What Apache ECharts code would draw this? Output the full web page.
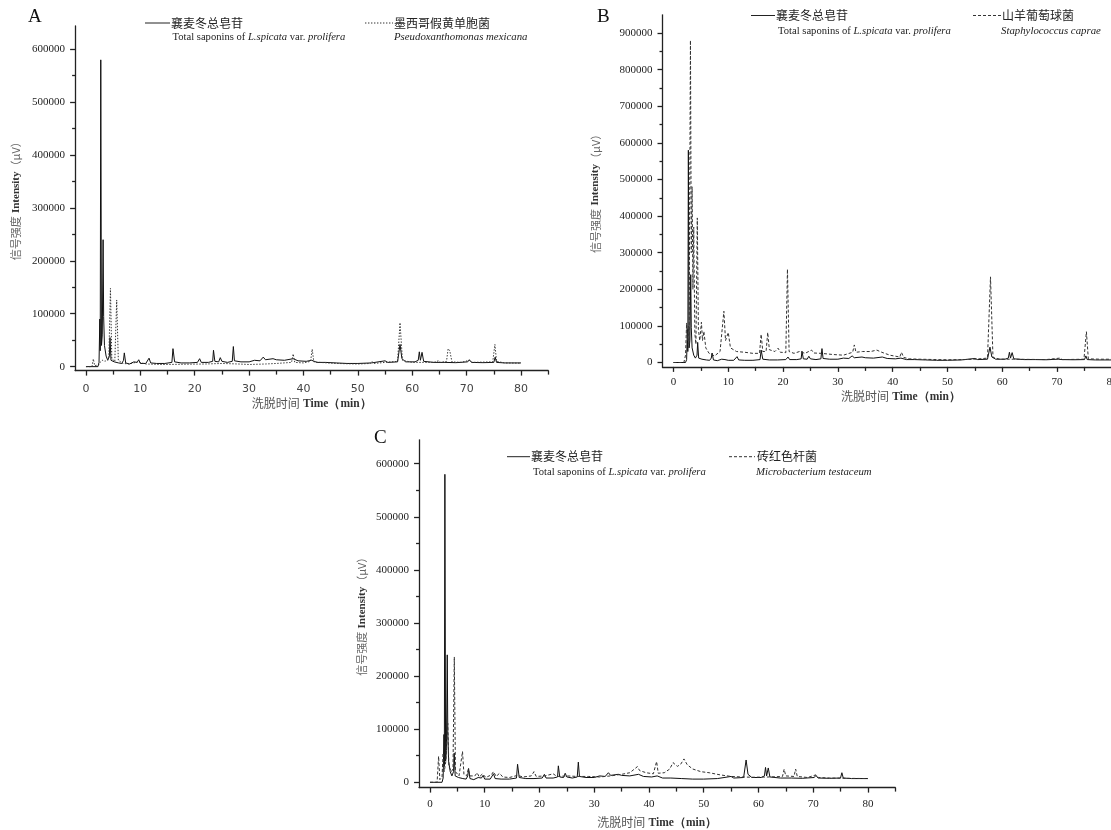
<!DOCTYPE html>
<html><head><meta charset="utf-8">
<script src="https://cdn.jsdelivr.net/npm/echarts@6/dist/echarts.min.js"></script>
<style>html,body{margin:0;padding:0;background:#fff}#c{width:1111px;height:830px}</style>
</head><body><div id="c"></div>
<script>
// ---------------- DATA ----------------
const panelLetters = ['A', 'B', 'C'];
const xTicks = [0, 10, 20, 30, 40, 50, 60, 70, 80];
const xMinorTicks = [5, 15, 25, 35, 45, 55, 65, 75, 85];
const yTicksA = [0, 100000, 200000, 300000, 400000, 500000, 600000];
const yMinorA = [50000, 150000, 250000, 350000, 450000, 550000];
const yTicksB = [0, 100000, 200000, 300000, 400000, 500000, 600000, 700000, 800000, 900000];
const yMinorB = [50000, 150000, 250000, 350000, 450000, 550000, 650000, 750000, 850000];
const yTicksC = yTicksA;
const yMinorC = yMinorA;

const xAxisNameCn = '洗脱时间';
const xAxisNameEn = 'Time（min）';
const yAxisNameCn = '信号强度';
const yAxisNameEn = 'Intensity';
const yAxisUnit = '（μV）';

const refNameCn = '襄麦冬总皂苷';
const refNameEn = 'Total saponins of {i|L.spicata} var. {i|prolifera}';
const strainNamesCn = ['墨西哥假黄单胞菌', '山羊葡萄球菌', '砖红色杆菌'];
const strainNamesEn = ['Pseudoxanthomonas mexicana', 'Staphylococcus caprae', 'Microbacterium testaceum'];

// reference chromatogram (solid), same in all three panels: [time min, intensity µV]
const saponins = [
  [0,0],[2.2,0],[2.4,8000],[2.55,90000],[2.62,30000],[2.72,580000],[2.85,40000],[3.0,60000],[3.15,240000],
  [3.25,95000],[3.4,40000],[3.7,20000],[4.0,12000],[4.3,20000],[4.42,55000],[4.6,12000],[5.2,9000],[6.0,7000],
  [6.6,6000],[6.9,12000],[7.05,26000],[7.3,7000],[8.0,5000],[8.8,9000],[9.1,12000],[9.4,8000],[9.7,13000],
  [10.0,6000],[11.0,6000],[11.6,16000],[11.9,7000],[13,6000],[14.5,6000],[15.8,8000],[16.0,34000],[16.3,9000],
  [17.5,7000],[19,7000],[20.5,8000],[20.9,15000],[21.2,8000],[22.5,8000],[23.3,10000],[23.45,31000],[23.7,10000],
  [24.4,9000],[24.7,17000],[25.0,10000],[26.0,8000],[26.9,10000],[27.1,38000],[27.3,11000],[28.5,9000],[30,9000],
  [31,12000],[32,11000],[32.6,18000],[33,13000],[34.4,15000],[35,13000],[36.5,12000],[38.1,15000],[39,11000],
  [40.5,10000],[41.5,12000],[42.5,8000],[44,8000],[46,7000],[48,6000],[50,6000],[52.5,7000],[55,11000],[55.5,8000],
  [57.3,9000],[57.75,42000],[58.1,15000],[58.8,9000],[60.5,9000],[61.1,12000],[61.3,28000],[61.5,12000],[61.8,27000],
  [62.1,10000],[64,8000],[66,8000],[68,7500],[70.2,9000],[70.5,13000],[70.9,8000],[73,7500],[75.0,8000],[75.25,18000],
  [75.5,8000],[77,7000],[80,7000]
];

// Pseudoxanthomonas mexicana (dotted, panel A)
const mexicana = [
  [0,0],[1.1,0],[1.35,14500],[1.6,2000],[2.3,3000],[2.6,8000],[3.0,12000],[3.5,10000],[4.2,15000],[4.5,148000],
  [4.75,15000],[5.3,10000],[5.65,126000],[5.95,12000],[6.8,6000],[8,5000],[9.5,9000],[11,5000],[14,4000],[18,4500],
  [22,5000],[25,6000],[28,5000],[30,4000],[33,5000],[35,6000],[37.8,8000],[38.1,24000],[38.4,8000],[40,7000],
  [41.3,10000],[41.6,33000],[41.9,9000],[43,8000],[46,6000],[50,5000],[52.3,6000],[52.6,10000],[52.9,6000],[55,8000],
  [57.3,10000],[57.75,83000],[58.2,12000],[60,8000],[62,8000],[64,8000],[64.8,11000],[65.2,8000],[66.3,10000],
  [66.6,34000],[66.9,30000],[67.3,9000],[69,8000],[70.5,12000],[71,8000],[74.8,9000],[75.2,42000],[75.5,10000],
  [77,7000],[80,6500]
];

// Staphylococcus caprae (dashed, panel B)
const caprae = [
  [0,0],[1.9,0],[2.2,20000],[2.4,108000],[2.55,60000],[2.7,100000],[2.85,50000],[3.1,880000],[3.25,300000],
  [3.4,480000],[3.55,200000],[3.7,370000],[3.9,80000],[4.1,50000],[4.35,395000],[4.55,90000],[4.8,60000],[5.1,110000],
  [5.3,60000],[5.55,85000],[5.9,40000],[6.5,25000],[7.5,18000],[8.5,30000],[9.2,140000],[9.5,60000],[10.0,82000],
  [10.4,40000],[11.5,30000],[13,28000],[14.5,25000],[15.7,25000],[16.0,77000],[16.3,30000],[16.9,30000],[17.2,82000],
  [17.5,35000],[18.5,30000],[19.1,39000],[19.5,28000],[20.5,27000],[20.8,255000],[21.1,30000],[22,25000],[23,30000],
  [24,25000],[25.2,34000],[25.6,26000],[27,25000],[29,22000],[31,20000],[32.7,28000],[33.0,48000],[33.3,28000],
  [34.5,30000],[36,30000],[37.1,34000],[38,28000],[39.5,20000],[41.3,15000],[41.6,28000],[42,14000],[43,10000],
  [45,9000],[48,8000],[50,7500],[53,8000],[55,9000],[57.3,12000],[57.85,234000],[58.3,14000],[59.5,9000],[62,9000],
  [65,8500],[68,8000],[70.5,12000],[71,8000],[74.9,9000],[75.35,84000],[75.7,10000],[78,9000],[80,9000],[85,9000]
];

// Microbacterium testaceum (dashed, panel C)
const testaceum = [
  [0,0],[1.3,0],[1.57,49000],[1.8,5000],[2.2,10000],[2.4,55000],[2.6,20000],[2.9,40000],[3.25,111000],[3.45,30000],
  [3.9,20000],[4.2,25000],[4.44,236000],[4.65,20000],[5.3,12000],[5.94,58000],[6.2,15000],[6.7,12000],[7.0,25000],
  [7.3,12000],[8.2,12000],[8.6,18000],[9.0,10000],[9.6,16000],[10.2,9000],[11.2,14000],[11.6,20000],[12.1,11000],
  [12.7,17000],[13.3,10000],[14.5,9000],[16,13000],[17,10000],[18.5,12000],[19.0,20000],[19.4,11000],[21,12000],
  [22.5,16000],[23.2,11000],[25,12000],[27,11000],[29,11000],[31,10000],[33,12000],[35,15000],[36.5,18000],
  [37.9,29500],[38.3,22000],[39.5,18000],[40.8,16000],[41.4,39000],[41.7,17000],[42.8,18000],[43.8,25000],
  [44.4,37000],[45.2,30000],[45.8,34000],[46.4,44000],[47,33000],[48,25000],[49.5,20000],[51,18000],[53,14000],
  [55,11000],[57,10000],[59,9500],[62,10000],[64.4,11000],[64.7,24500],[65.0,12000],[66.5,11000],[66.8,25000],
  [67.1,11000],[69,9000],[70.5,14000],[71,9000],[73,8000],[76,7500],[80,7000]
];

const strainSeries = [mexicana, caprae, testaceum];
const yTickSets = [yTicksA, yTicksB, yTicksC];
const yMinorSets = [yMinorA, yMinorB, yMinorC];

// ---------------- LAYOUT / STYLE ----------------
const L = [
  {left:75.1, top:26.0, width:473.1, height:344.6, xMin:-2, xMax:85, yMin:-7500, yMax:644000,
   xLabMargin:13, xLabFont:'DejaVu Sans', xLabColor:'#444', xNameGap:27, yNameGap:53,
   letter:[28,17], ly1:23, ly2:37.5, l1:[145,170], t1:171, e1:172.5, l2:[365,393], t2:394, e2:394, dash:[1.4,1.6]},
  {left:662.5, top:14.8, width:476.8, height:352.1, xMin:-2, xMax:85, yMin:-12000, yMax:950000,
   xLabMargin:10, xLabFont:'Liberation Serif', xLabColor:'#222', xNameGap:24, yNameGap:61,
   letter:[597,17], ly1:15.5, ly2:31, l1:[751,775], t1:776, e1:778, l2:[973,1001], t2:1002, e2:1001, dash:[3,2]},
  {left:419.05, top:439.8, width:476.2, height:347.8, xMin:-2, xMax:85, yMin:-10000, yMax:645000,
   xLabMargin:11, xLabFont:'Liberation Serif', xLabColor:'#222', xNameGap:29, yNameGap:51,
   letter:[374,438], ly1:456.7, ly2:472.3, l1:[507,530], t1:531, e1:533, l2:[729,755], t2:757, e2:756, dash:[3,2]}
];

const axisColor = '#222';
const lineStyleAxis = {color: axisColor, width: 1.3};
const serif = 'Liberation Serif';
const cjk = 'Noto Sans CJK SC';

const grids = [], xAxes = [], yAxes = [], series = [], graphics = [];

L.forEach((p, i) => {
  grids.push({left: p.left, top: p.top, width: p.width, height: p.height, containLabel: false,
    outerBoundsMode: 'none'});
  // main x axis
  xAxes.push({
    type: 'value', gridIndex: i, min: p.xMin, max: p.xMax, position: 'bottom',
    axisLine: {show: true, onZero: false, lineStyle: lineStyleAxis},
    axisTick: {show: true, length: 5, customValues: xTicks, lineStyle: lineStyleAxis},
    axisLabel: {show: true, customValues: xTicks, margin: p.xLabMargin, fontFamily: p.xLabFont,
      fontSize: 11, color: p.xLabColor, formatter: v => String(v), hideOverlap: false},
    splitLine: {show: false},
    name: '{c|' + xAxisNameCn + '} {e|' + xAxisNameEn + '}', nameLocation: 'middle', nameGap: p.xNameGap,
    nameTextStyle: {rich: {
      c: {fontFamily: cjk, fontSize: 12, color: '#555'},
      e: {fontFamily: serif, fontSize: 11.5, fontWeight: 'bold', color: '#333'}
    }}
  });
  // minor x ticks
  xAxes.push({
    type: 'value', gridIndex: i, min: p.xMin, max: p.xMax, position: 'bottom',
    axisLine: {show: false, onZero: false},
    axisTick: {show: true, length: 4, customValues: xMinorTicks, lineStyle: lineStyleAxis},
    axisLabel: {show: false}, splitLine: {show: false}
  });
  // main y axis
  yAxes.push({
    type: 'value', gridIndex: i, min: p.yMin, max: p.yMax, position: 'left',
    axisLine: {show: true, onZero: false, lineStyle: lineStyleAxis},
    axisTick: {show: true, length: 5, customValues: yTickSets[i], lineStyle: lineStyleAxis},
    axisLabel: {show: true, customValues: yTickSets[i], margin: 10, fontFamily: serif,
      fontSize: 11, color: '#222', formatter: v => String(v)},
    splitLine: {show: false},
    name: '{c|' + yAxisNameCn + '} {e|' + yAxisNameEn + '}{c|' + yAxisUnit + '}',
    nameLocation: 'middle', nameGap: p.yNameGap, nameRotate: 90,
    nameTextStyle: {rich: {
      c: {fontFamily: cjk, fontSize: 11, color: '#666'},
      e: {fontFamily: serif, fontSize: 11, fontWeight: 'bold', color: '#333'}
    }}
  });
  // minor y ticks
  yAxes.push({
    type: 'value', gridIndex: i, min: p.yMin, max: p.yMax, position: 'left',
    axisLine: {show: false, onZero: false},
    axisTick: {show: true, length: 3, customValues: yMinorSets[i], lineStyle: lineStyleAxis},
    axisLabel: {show: false}, splitLine: {show: false}
  });

  series.push({
    name: refNameCn, type: 'line', xAxisIndex: 2 * i, yAxisIndex: 2 * i, data: saponins,
    showSymbol: false, symbol: 'none', lineStyle: {color: '#111', width: 1}, z: 2, silent: true
  });
  series.push({
    name: strainNamesCn[i], type: 'line', xAxisIndex: 2 * i, yAxisIndex: 2 * i, data: strainSeries[i],
    showSymbol: false, symbol: 'none', lineStyle: {color: '#333', width: 1, type: p.dash}, z: 3, silent: true
  });

  // panel letter
  graphics.push({type: 'text', x: p.letter[0], y: p.letter[1],
    style: {text: panelLetters[i], font: '19px "Liberation Serif"', fill: '#111', textVerticalAlign: 'middle'}});
  // legend: reference
  graphics.push({type: 'line', shape: {x1: p.l1[0], y1: p.ly1, x2: p.l1[1], y2: p.ly1},
    style: {stroke: '#222', lineWidth: 1}});
  graphics.push({type: 'text', x: p.t1, y: p.ly1,
    style: {text: refNameCn, font: '12px "Noto Sans CJK SC"', fill: '#222', textVerticalAlign: 'middle'}});
  graphics.push({type: 'text', x: p.e1, y: p.ly2,
    style: {text: refNameEn, fontFamily: serif, fontSize: 10.6, fill: '#222', textVerticalAlign: 'middle',
      rich: {i: {fontStyle: 'italic', fontFamily: serif, fontSize: 10.6, fill: '#222'}}}});
  // legend: strain
  graphics.push({type: 'line', shape: {x1: p.l2[0], y1: p.ly1, x2: p.l2[1], y2: p.ly1},
    style: {stroke: '#333', lineWidth: 1, lineDash: p.dash}});
  graphics.push({type: 'text', x: p.t2, y: p.ly1,
    style: {text: strainNamesCn[i], font: '12px "Noto Sans CJK SC"', fill: '#222', textVerticalAlign: 'middle'}});
  graphics.push({type: 'text', x: p.e2, y: p.ly2,
    style: {text: strainNamesEn[i], font: 'italic 10.8px "Liberation Serif"', fill: '#222', textVerticalAlign: 'middle'}});
});

const chart = echarts.init(document.getElementById('c'), null, {renderer: 'canvas', width: 1111, height: 830});
chart.setOption({
  animation: false,
  backgroundColor: '#fff',
  grid: grids,
  xAxis: xAxes,
  yAxis: yAxes,
  series: series,
  graphic: graphics
});
</script>
</body></html>
